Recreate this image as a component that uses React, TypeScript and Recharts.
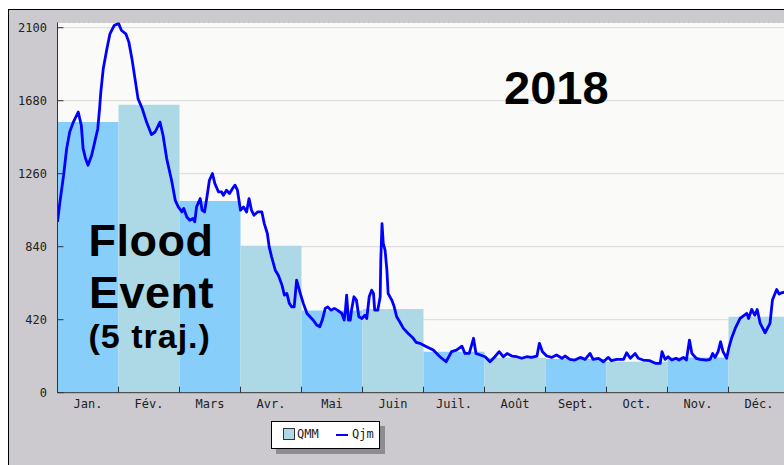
import React from 'react';
import {
  ComposedChart,
  Bar,
  Cell,
  Line,
  XAxis,
  YAxis,
  CartesianGrid,
  ReferenceLine,
  Legend,
} from 'recharts';

// Month labels and monthly mean discharge (QMM, m3/s)
const months = ['Jan.', 'Fév.', 'Mars', 'Avr.', 'Mai', 'Juin', 'Juil.', 'Août', 'Sept.', 'Oct.', 'Nov.', 'Déc.'];
const qmm = [1557, 1657, 1103, 845, 473, 481, 236, 201, 194, 178, 203, 437];

// Daily discharge (Qjm): time in months since 1 January, flow in m3/s
const qjmTime = [
  0.0, 0.04, 0.1, 0.15, 0.2, 0.26, 0.34, 0.39, 0.42, 0.46, 0.5, 0.56, 0.61, 0.66, 0.69, 0.71, 0.75, 0.81, 0.86, 0.93,
  1.0, 1.05, 1.12, 1.17, 1.22, 1.27, 1.32, 1.39, 1.46, 1.54, 1.6, 1.68, 1.73, 1.79, 1.87, 1.93, 1.98,
  2.04, 2.07, 2.12, 2.17, 2.22, 2.25, 2.28, 2.34, 2.37, 2.41, 2.45, 2.49, 2.54, 2.58, 2.64, 2.69, 2.72, 2.77, 2.82, 2.87, 2.91, 2.95,
  3.0, 3.05, 3.1, 3.14, 3.18, 3.22, 3.28, 3.35, 3.39, 3.44, 3.47, 3.51, 3.57, 3.62, 3.68, 3.72, 3.76, 3.8, 3.84, 3.88, 3.92, 3.98,
  4.03, 4.09, 4.14, 4.19, 4.25, 4.3, 4.34, 4.39, 4.43, 4.48, 4.54, 4.59, 4.66, 4.7, 4.72, 4.74, 4.77, 4.8, 4.82, 4.86, 4.9, 4.94, 4.99,
  5.04, 5.07, 5.11, 5.15, 5.18, 5.2, 5.25, 5.29, 5.3, 5.32, 5.34, 5.37, 5.4, 5.42, 5.48, 5.52, 5.56, 5.61, 5.67, 5.75, 5.82, 5.88, 5.94,
  6.05, 6.16, 6.27, 6.37, 6.46, 6.54, 6.63, 6.68, 6.75, 6.82, 6.86, 6.93,
  7.01, 7.09, 7.17, 7.24, 7.31, 7.37, 7.45, 7.53, 7.61, 7.69, 7.77, 7.86, 7.9, 7.95,
  8.02, 8.1, 8.18, 8.27, 8.32, 8.4, 8.48, 8.57, 8.65, 8.73, 8.78, 8.87, 8.95, 8.98,
  9.03, 9.08, 9.17, 9.28, 9.33, 9.39, 9.47, 9.52, 9.6, 9.71, 9.8, 9.88, 9.91, 9.96,
  10.01, 10.07, 10.14, 10.19, 10.26, 10.31, 10.36, 10.4, 10.47, 10.53, 10.64, 10.7, 10.74, 10.78, 10.83, 10.87, 10.91, 10.97,
  11.01, 11.05, 11.11, 11.19, 11.3, 11.33, 11.38, 11.43, 11.47, 11.52, 11.6, 11.68, 11.72, 11.79, 11.83, 11.87, 11.94, 12.0,
];
const qjmFlow = [
  983, 1098, 1251, 1404, 1500, 1557, 1615, 1538, 1404, 1347, 1309, 1366, 1442, 1519, 1634, 1730, 1864, 1979, 2065, 2113,
  2125, 2084, 2065, 2017, 1922, 1807, 1692, 1634, 1557, 1485, 1500, 1557, 1481, 1347, 1222, 1107, 1069,
  1040, 1060, 1011, 992, 1002, 983, 1069, 1117, 1050, 1040, 1126, 1222, 1261, 1203, 1155, 1155, 1136, 1165, 1146, 1175, 1194, 1165,
  1050, 1069, 1040, 1117, 1050, 1021, 1040, 1040, 973, 916, 839, 782, 705, 676, 619, 561, 571, 514, 494, 494, 648, 571,
  514, 456, 437, 418, 389, 379, 418, 485, 494, 475, 485, 475, 456, 418, 475, 561, 418, 418, 475, 552, 533, 437, 427,
  446, 427, 552, 590, 571, 475, 475, 552, 763, 973, 859, 820, 705, 571, 533, 494, 437, 408, 370, 341, 318, 290, 284,
  264, 245, 207, 178, 236, 245, 268, 226, 226, 313, 226, 217,
  207, 178, 207, 236, 207, 226, 211, 207, 198, 207, 203, 211, 284, 236,
  211, 203, 217, 198, 211, 192, 188, 203, 192, 226, 192, 198, 178, 188,
  203, 184, 192, 192, 230, 198, 226, 198, 188, 184, 169, 169, 236, 192,
  207, 188, 198, 188, 203, 188, 303, 226, 198, 192, 188, 192, 226, 203, 236, 293, 236, 198,
  264, 313, 370, 427, 456, 427, 479, 446, 479, 399, 345, 399, 533, 594, 567, 575, 580, 560,
];

const yTicks = [0, 420, 840, 1260, 1680, 2100];
const monthBounds = [0, 1, 2, 3, 4, 5, 6, 7, 8, 9, 10, 11, 12];
const yMax = 2130;

const barData = months.map((m, i) => ({ month: m, qmm: qmm[i] }));
const lineData = qjmTime.map((t, i) => ({ t, q: qjmFlow[i] }));

const BAR_A = '#87CEFA';
const BAR_B = '#ADD8E6';
const LINE_COLOR = '#0000FF';
const MONO = '"DejaVu Sans Mono", "Liberation Mono", monospace';
const SANS = '"Liberation Sans", Arial, sans-serif';

const CHART_W = 800;
const CHART_H = 470;
const MARGIN = { top: 12.5, right: 19.5, bottom: 57.3, left: 0 };
const Y_AXIS_W = 48.5;
const PLOT_W = CHART_W - MARGIN.left - MARGIN.right - Y_AXIS_W;
const HALF_MONTH = PLOT_W / 24;

const MonthTick = (props: any) => {
  const { x, y, payload } = props;
  const i = payload.value;
  if (i >= months.length) return null;
  return (
    <text x={x + HALF_MONTH} y={y + 15.5} textAnchor="middle" fontFamily={MONO} fontSize={12} fill="#222">
      {months[i]}
    </text>
  );
};

const FlowTick = (props: any) => {
  const { x, y, payload } = props;
  return (
    <text x={x} y={y + 4} textAnchor="end" fontFamily={MONO} fontSize={12} fill="#222">
      {payload.value}
    </text>
  );
};

const LegendBox = () => (
  <div
    style={{
      position: 'relative',
      width: 109,
      height: 28,
      boxSizing: 'border-box',
      background: '#fff',
      border: '1px solid #000',
      boxShadow: '5px 5px 0 #8E8C90',
      fontFamily: MONO,
      fontSize: 12,
      color: '#222',
    }}
  >
    <span
      style={{
        position: 'absolute',
        left: 11,
        top: 6.5,
        width: 12,
        height: 12,
        boxSizing: 'border-box',
        border: '1px solid #333',
        background: BAR_B,
      }}
    />
    <span style={{ position: 'absolute', left: 25, top: 5, lineHeight: '14px' }}>QMM</span>
    <span
      style={{
        position: 'absolute',
        left: 64,
        top: 12,
        width: 12,
        height: 2,
        background: LINE_COLOR,
      }}
    />
    <span style={{ position: 'absolute', left: 80, top: 5, lineHeight: '14px' }}>Qjm</span>
  </div>
);

// Year and event captions, drawn above the series
const Captions = () => (
  <svg
    width={CHART_W}
    height={CHART_H}
    style={{ position: 'absolute', left: 0, top: 0, pointerEvents: 'none' }}
  >
    <text x={495} y={93.5} fontFamily={SANS} fontWeight="bold" fontSize={47} fill="#000">
      2018
    </text>
    <text x={79.5} y={246} fontFamily={SANS} fontWeight="bold" fontSize={45} letterSpacing={0.5} fill="#000">
      Flood
    </text>
    <text x={80} y={297.5} fontFamily={SANS} fontWeight="bold" fontSize={45} letterSpacing={0.5} fill="#000">
      Event
    </text>
    <text x={79.5} y={338} fontFamily={SANS} fontWeight="bold" fontSize={34} letterSpacing={1} fill="#000">
      (5 traj.)
    </text>
  </svg>
);

export default function App() {
  return (
    <div
      style={{
        position: 'fixed',
        left: 8,
        top: 9,
        width: 776,
        height: 456,
        overflow: 'hidden',
        background: '#CCCACE',
        borderLeft: '1px solid #000',
        borderTop: '1px solid #000',
        boxSizing: 'border-box',
      }}
    >
      <ComposedChart width={CHART_W} height={CHART_H} data={barData} margin={MARGIN} barCategoryGap={0} barGap={0}>
        <CartesianGrid xAxisId="t" vertical={false} stroke="#D8D8D8" fill="#FAFBF9" />
        <XAxis xAxisId="m" dataKey="month" type="category" hide height={0} />
        <XAxis
          xAxisId="t"
          dataKey="t"
          type="number"
          domain={[0, 12]}
          ticks={monthBounds}
          allowDataOverflow
          interval={0}
          tickSize={-6}
          tickMargin={6}
          tick={<MonthTick />}
          tickLine={{ stroke: '#333' }}
          axisLine={{ stroke: '#333' }}
          height={30}
        />
        <YAxis
          domain={[0, yMax]}
          ticks={yTicks}
          allowDataOverflow
          interval={0}
          width={Y_AXIS_W}
          tickSize={-6}
          tickMargin={16.5}
          tick={<FlowTick />}
          tickLine={{ stroke: '#333' }}
          axisLine={{ stroke: '#333' }}
        />
        <ReferenceLine xAxisId="t" y={yMax} stroke="#C4C4C4" strokeDasharray="3 2" />
        <Bar xAxisId="m" dataKey="qmm" name="QMM" fill={BAR_B} isAnimationActive={false}>
          {barData.map((_, i) => (
            <Cell key={i} fill={i % 2 === 0 ? BAR_A : BAR_B} />
          ))}
        </Bar>
        <Line
          xAxisId="t"
          data={lineData}
          dataKey="q"
          name="Qjm"
          type="linear"
          stroke={LINE_COLOR}
          strokeWidth={2.8}
          strokeLinejoin="round"
          dot={false}
          isAnimationActive={false}
        />
        <Legend
          layout="horizontal"
          verticalAlign="middle"
          align="center"
          content={<LegendBox />}
          wrapperStyle={{ left: 262, top: 410.5, width: 'auto', height: 'auto' }}
        />
      </ComposedChart>
      <Captions />
    </div>
  );
}
